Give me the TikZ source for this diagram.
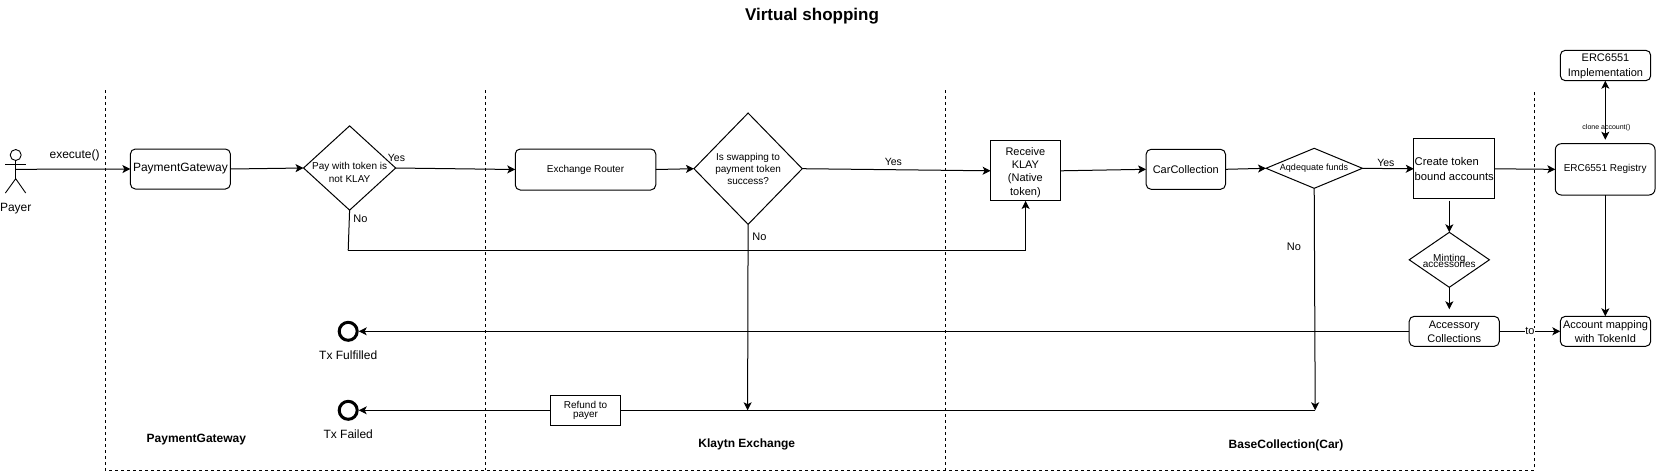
\documentclass[tikz,border=0pt]{standalone}
\usepackage{fontspec}
\setmainfont{Liberation Sans}
\usetikzlibrary{arrows.meta,shapes.geometric}
\newcommand{\fsz}[2]{\fontsize{#1}{#2}\selectfont\lineskiplimit=-100pt\relax}
\tikzset{
  rbox/.style={draw=black,line width=1pt,rounded corners=5pt,inner sep=0pt,outer sep=0pt,align=center},
  sbox/.style={draw=black,line width=1pt,inner sep=0pt,outer sep=0pt,align=center},
  dia/.style={draw=black,line width=1pt,diamond,inner sep=0pt,outer sep=0pt},
  lab/.style={inner sep=0pt,outer sep=0pt,align=center},
  endc/.style={circle,draw=black,line width=3pt,minimum size=18pt,inner sep=0pt},
  flow/.style={line width=1pt,draw=black,-{Stealth[length=8pt,width=8pt,inset=2pt]}},
  back/.style={line width=1pt,draw=black,{Stealth[length=8pt,width=8pt,inset=2pt]}-{Stealth[length=8pt,width=8pt,inset=2pt]}},
  plain/.style={line width=1pt,draw=black},
  lane/.style={line width=1pt,draw=black,dash pattern=on 3pt off 3pt},
  person/.style={line width=0.9pt,draw=black}
}
\begin{document}
\begin{tikzpicture}[x=1pt,y=-1pt]
\useasboundingbox (0,0) rectangle (1656,472);
% swimlanes
\draw[lane] (105.4,90) -- (105.4,470) -- (1534.8,470) -- (1534.8,90);
\draw[lane] (485.4,90) -- (485.4,470);
\draw[lane] (945.4,90) -- (945.4,470);
% title and lane captions
\node[lab,font=\bfseries\fsz{17}{20}] (title) at (812,16) {Virtual shopping};
\node[lab,font=\bfseries\fsz{12}{14}] (cap1) at (196.4,439.2) {PaymentGateway};
\node[lab,font=\bfseries\fsz{12}{14}] (cap2) at (746.8,444.2) {Klaytn Exchange};
\node[lab,font=\bfseries\fsz{12}{14}] (cap3) at (1286,445.2) {BaseCollection(Car)};
% actor
\node[circle,draw=black,line width=0.9pt,minimum size=11pt,inner sep=0pt] (head) at (15.7,155) {};
\coordinate (hip) at (15.7,178.7);
\coordinate (chest) at (15.7,169.3);
\draw[person] (head.south) -- (hip);
\draw[person] (5,164) -- (25.7,164);
\draw[person] (5.4,193) -- (hip) -- (25.7,193);
\node[lab,font=\fsz{12}{14}] (payer) at (15.7,209) {Payer};
% boxes
\node[rbox,minimum width=100pt,minimum height=40pt,font=\fsz{12}{14}] (pg) at (180.4,169) {PaymentGateway};
\node[rbox,minimum width=140.5pt,minimum height=41pt,font=\fsz{10}{12}] (ex) at (585.5,169.5) {Exchange Router};
\node[sbox,minimum width=70pt,minimum height=60.3pt] (recv) at (1025.6,170.8) {};
\node[lab,font=\fsz{11}{13.3}] (recvt) at (1025.4,172.2) {Receive\\KLAY\\(Native\\token)};
\node[rbox,minimum width=79.4pt,minimum height=40pt,font=\fsz{11}{13}] (car) at (1185.8,169.3) {CarCollection};
\node[sbox,minimum width=80.9pt,minimum height=60.3pt,align=left,font=\fsz{11.2}{15}] (tba) at (1454.25,168.8) {Create token\\bound accounts};
\node[rbox,minimum width=99.7pt,minimum height=51.3pt,rounded corners=6pt,font=\fsz{10}{12}] (reg) at (1605.15,169.35) {ERC6551 Registry};
\node[rbox,minimum width=90.4pt,minimum height=30.4pt] (impl) at (1605.5,65.5) {};
\node[lab,font=\fsz{11}{14.5}] (implt) at (1605.5,66.3) {ERC6551\\Implementation};
\node[rbox,minimum width=90.4pt,minimum height=30pt,font=\fsz{11}{14}] (map) at (1605.5,331.3) {Account mapping\\with TokenId};
\node[rbox,minimum width=90.1pt,minimum height=30pt,font=\fsz{11}{14}] (acc) at (1454.25,331.3) {Accessory\\Collections};
\node[sbox,minimum width=70pt,minimum height=30pt,font=\fsz{10}{8.7}] (ref) at (585.5,410.3) {Refund to\\payer};
% decisions
\node[dia,minimum width=92.1pt,minimum height=84.3pt] (d1) at (349.6,168) {};
\node[lab,font=\fsz{10}{13}] (d1t) at (349.6,172.8) {Pay with token is\\not KLAY};
\node[dia,minimum width=108.3pt,minimum height=111.3pt] (d2) at (748.1,168.7) {};
\node[lab,font=\fsz{10}{12}] (d2t) at (d2) {Is swapping to\\payment token\\success?};
\node[dia,minimum width=96.4pt,minimum height=40pt] (d3) at (1314.2,168.3) {};
\node[lab,font=\fsz{9}{11}] (d3t) at (1314,168.5) {Aqdequate funds};
\node[dia,minimum width=80.2pt,minimum height=55pt] (d4) at (1449.3,259.8) {};
\node[lab,font=\fsz{10}{5.7}] (d4t) at (1449.3,261) {Minting\\accessories};
% end events
\node[endc] (fulfil) at (348.2,331.3) {};
\node[endc] (fail) at (348.2,410.3) {};
\node[lab,font=\fsz{12}{14}] (fulfilt) at (348.2,355.5) {Tx Fulfilled};
\node[lab,font=\fsz{12}{14}] (failt) at (348.2,434.5) {Tx Failed};
% connector helpers
\coordinate (c1) at (348.2,250.3);
\coordinate (m2) at (747.6,410.3);
\coordinate (m3) at (1315.2,410.3);
\coordinate (t4) at (1449.3,200.7);
\coordinate (b4) at (1449.3,309.3);
\coordinate (dtop) at (1605.3,80.7);
\coordinate (dbot) at (1605.3,139.7);
% connectors
\draw[flow] (chest) -- (pg.west);
\draw[flow] (pg.east) -- (d1.west);
\draw[flow] (d1.east) -- (ex.west);
\draw[flow] (ex.east) -- (d2.west);
\draw[flow] (d2.east) -- (recv.west);
\draw[plain] (d1.south) -- (c1);
\draw[flow] (c1) -| (recv.south);
\draw[flow] (d2.south) -- (m2);
\draw[flow] (recv.east) -- (car.west);
\draw[flow] (car.east) -- (d3.west);
\draw[flow] (d3.east) -- (tba.west);
\draw[flow] (tba.east) -- (reg.west);
\draw[flow] (d3.south) -- (m3);
\draw[plain] (m3) -- (ref.east);
\draw[flow] (ref.west) -- (fail.east);
\draw[flow] (t4) -- (d4.north);
\draw[flow] (d4.south) -- (b4);
\draw[flow] (acc.west) -- (fulfil.east);
\draw[flow] (acc.east) -- (map.west);
\draw[back] (dtop) -- (dbot);
\draw[flow] (reg.south -| dtop) -- (map.north -| dtop);
% edge labels
\node[lab,font=\fsz{12}{14}] (execl) at (74.6,155.5) {execute()};
\node[lab,font=\fsz{10.5}{12}] (y1) at (396.5,157.8) {Yes};
\node[lab,font=\fsz{11}{13}] (n1) at (360.5,218.3) {No};
\node[lab,font=\fsz{10.5}{12}] (y2) at (893.4,161.5) {Yes};
\node[lab,font=\fsz{11}{13}] (n2) at (759.5,236.3) {No};
\node[lab,font=\fsz{10.5}{12}] (y3) at (1385.8,162.5) {Yes};
\node[lab,font=\fsz{11}{13}] (n3) at (1294,246.5) {No};
\node[lab,font=\fsz{7}{8}] (clone) at (1606.4,127.3) {clone account()};
\node[lab,font=\fsz{11}{13},fill=white] (tol) at (1530,331.3) {to};
\end{tikzpicture}
\end{document}
